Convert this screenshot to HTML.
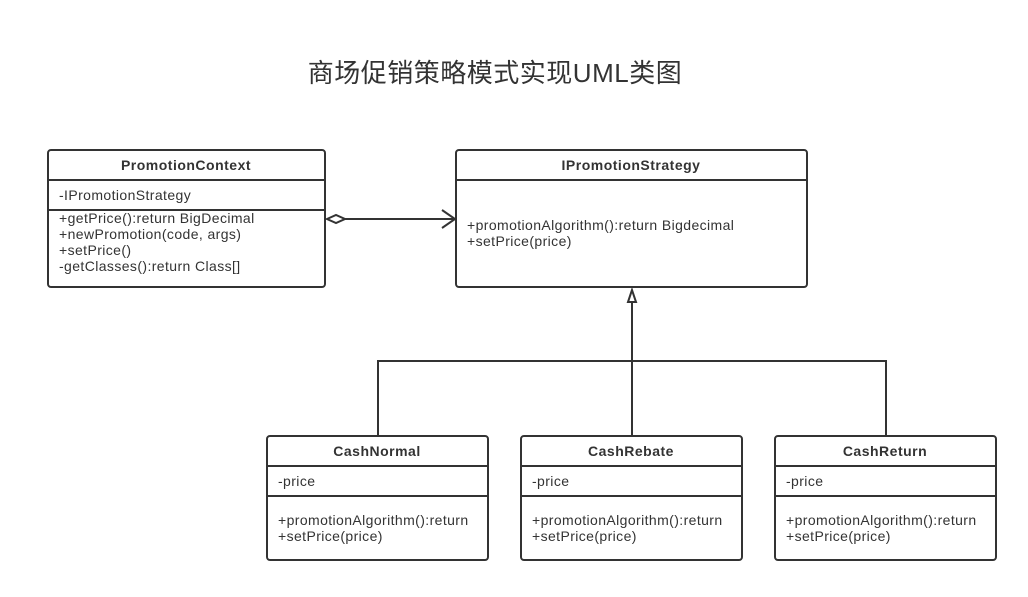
<!DOCTYPE html>
<html><head><meta charset="utf-8"><style>
body{margin:0;background:#fff}
svg text{font-family:"Liberation Sans","Noto Sans CJK SC",sans-serif;fill:#333;font-size:14px;letter-spacing:0.4px}
.b{font-weight:bold;letter-spacing:0.5px}
</style></head><body>
<svg width="1028" height="592" xmlns="http://www.w3.org/2000/svg">
<text x="495" y="82" text-anchor="middle" style="font-size:26px;letter-spacing:0.5px">商场促销策略模式实现UML类图</text>
<g fill="none" stroke="#333" stroke-width="2">
<rect x="48" y="150" width="277" height="137" rx="3"/>
<line x1="48" y1="180" x2="325" y2="180"/><line x1="48" y1="210" x2="325" y2="210"/>
<rect x="456" y="150" width="351" height="137" rx="3"/>
<line x1="456" y1="180" x2="807" y2="180"/>
<rect x="267" y="436" width="221" height="124" rx="3"/>
<line x1="267" y1="466" x2="488" y2="466"/><line x1="267" y1="496" x2="488" y2="496"/>
<rect x="521" y="436" width="221" height="124" rx="3"/>
<line x1="521" y1="466" x2="742" y2="466"/><line x1="521" y1="496" x2="742" y2="496"/>
<rect x="775" y="436" width="221" height="124" rx="3"/>
<line x1="775" y1="466" x2="996" y2="466"/><line x1="775" y1="496" x2="996" y2="496"/>
<path d="M327 219 L336 215 L345 219 L336 223 Z"/>
<line x1="345" y1="219" x2="454" y2="219"/>
<path d="M442 210 L455 219 L442 228"/>
<path d="M632 290 L628 302 L636 302 Z"/>
<line x1="632" y1="302" x2="632" y2="436"/>
<path d="M378 436 L378 361 L886 361 L886 436"/>
</g>
<text x="186" y="170" text-anchor="middle" class="b">PromotionContext</text>
<text x="59" y="200">-IPromotionStrategy</text>
<text x="59" y="223">+getPrice():return BigDecimal</text>
<text x="59" y="239">+newPromotion(code, args)</text>
<text x="59" y="255">+setPrice()</text>
<text x="59" y="271">-getClasses():return Class[]</text>
<text x="631" y="170" text-anchor="middle" class="b">IPromotionStrategy</text>
<text x="467" y="230">+promotionAlgorithm():return Bigdecimal</text>
<text x="467" y="246">+setPrice(price)</text>
<text x="377" y="456" text-anchor="middle" class="b">CashNormal</text>
<text x="278" y="486">-price</text>
<text x="278" y="525">+promotionAlgorithm():return</text>
<text x="278" y="541">+setPrice(price)</text>
<text x="631" y="456" text-anchor="middle" class="b">CashRebate</text>
<text x="532" y="486">-price</text>
<text x="532" y="525">+promotionAlgorithm():return</text>
<text x="532" y="541">+setPrice(price)</text>
<text x="885" y="456" text-anchor="middle" class="b">CashReturn</text>
<text x="786" y="486">-price</text>
<text x="786" y="525">+promotionAlgorithm():return</text>
<text x="786" y="541">+setPrice(price)</text>
</svg>
</body></html>
